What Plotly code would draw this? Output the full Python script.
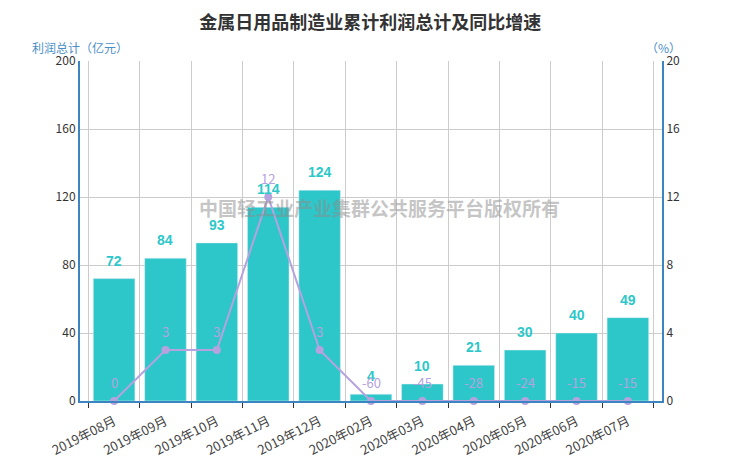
import plotly.graph_objects as go

months = ["2019年08月", "2019年09月", "2019年10月", "2019年11月", "2019年12月",
          "2020年02月", "2020年03月", "2020年04月", "2020年05月", "2020年06月", "2020年07月"]
profit = [72, 84, 93, 114, 124, 4, 10, 21, 30, 40, 49]
growth = [0, 3, 3, 12, 3, -60, -45, -28, -24, -15, -15]

bar_color = "#2ec7c9"
line_color = "#b6a2de"
axis_blue = "#3d85c0"
cjk = "Noto Sans CJK SC"

# right axis starts at 0, so negative growth sits on the floor
growth_plot = [max(g, 0) for g in growth]

fig = go.Figure()
fig.add_trace(go.Bar(x=months, y=profit, marker_color=bar_color, width=0.81,
                     name="利润总计", yaxis="y"))
fig.add_trace(go.Scatter(x=months, y=growth_plot, mode="lines+markers", yaxis="y2",
                         line=dict(color=line_color, width=2),
                         marker=dict(color=line_color, size=8),
                         cliponaxis=False, name="同比增速"))

annotations = []
for m, p in zip(months, profit):
    annotations.append(dict(x=m, y=p, yref="y", text="<b>%d</b>" % p, showarrow=False,
                            yshift=18, font=dict(color=bar_color, size=14, family="Arial")))
for m, g, gp in zip(months, growth, growth_plot):
    annotations.append(dict(x=m, y=gp, yref="y2", text=str(g), showarrow=False,
                            yshift=19, font=dict(color=line_color, size=13, family=cjk)))

annotations.append(dict(x=0.515, y=0.568, xref="paper", yref="paper", showarrow=False,
                        text="<b>中国轻工业产业集群公共服务平台版权所有</b>",
                        font=dict(color="rgba(140,140,140,0.5)", size=19, family=cjk)))
annotations.append(dict(x=-0.086, y=1.041, xref="paper", yref="paper", xanchor="left",
                        yanchor="middle", showarrow=False, text="利润总计（亿元）",
                        font=dict(size=12, color="#4a8fc7")))
annotations.append(dict(x=1.002, y=1.041, xref="paper", yref="paper", xanchor="center",
                        yanchor="middle", showarrow=False, text="（%）",
                        font=dict(size=12, color="#4a8fc7")))

# page body has an 8px margin, so the figure is a little smaller than the window
fig.update_layout(
    width=732, height=454,
    margin=dict(l=72, r=78, t=53, b=61),
    paper_bgcolor="white", plot_bgcolor="white",
    showlegend=False,
    font=dict(family=cjk, size=12, color="#333"),
    title=dict(text="<b>金属日用品制造业累计利润总计及同比增速</b>", x=0.495, xanchor="center",
               y=0.968, yanchor="middle", font=dict(size=18, color="#333", family=cjk)),
    xaxis=dict(type="category", tickson="boundaries", showgrid=True, gridcolor="#cccccc",
               showline=True, linecolor=axis_blue, linewidth=2, automargin=False,
               ticks="outside", ticklen=5, tickcolor="#333", tickangle=-27,
               ticklabelstandoff=6, tickfont=dict(size=13, color="#444")),
    yaxis=dict(range=[0, 200], dtick=40, showgrid=True, gridcolor="#cccccc",
               showline=True, linecolor=axis_blue, linewidth=2, zeroline=False,
               automargin=False, ticks="", tickfont=dict(size=12, color="#333")),
    yaxis2=dict(range=[0, 20], dtick=4, overlaying="y", side="right", showgrid=False,
                showline=True, linecolor=axis_blue, linewidth=2, zeroline=False,
                automargin=False, tickfont=dict(size=12, color="#333")),
    annotations=annotations,
)

fig.write_html("out.html")
